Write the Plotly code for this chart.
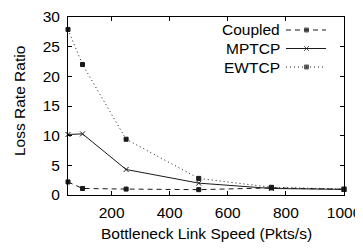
import plotly.graph_objects as go

speeds = [50, 100, 250, 500, 750, 1000]
coupled = [2.2, 1.1, 1.0, 0.9, 1.2, 0.95]
mptcp = [10.2, 10.3, 4.3, 2.0, 1.1, 0.95]
ewtcp = [27.9, 22.0, 9.4, 2.8, 1.3, 1.0]

series_names = ["Coupled", "MPTCP", "EWTCP"]
x_ticks = [200, 400, 600, 800, 1000]
y_ticks = [0, 5, 10, 15, 20, 25, 30]

FONT = "Liberation Sans, Arial, Helvetica, sans-serif"
INK = "#1a1a1a"
FS = 15.5

# page body has an 8px default margin; the figure is sized to fit the 363x251 window
PAGE_OFF = 8
W, H = 363 - PAGE_OFF, 251 - PAGE_OFF
ML, MR, MT, MB = 68 - PAGE_OFF, 19, 17 - PAGE_OFF, 56
PW, PH = W - ML - MR, H - MT - MB

def px_x(px):
    return (px - PAGE_OFF - ML) / PW

def px_y(py):
    return (H - MB - (py - PAGE_OFF)) / PH

styles = {
    "Coupled": dict(dash="5px,4px", symbol="square", size=4),
    "MPTCP": dict(dash="solid", symbol="x-thin", size=5),
    "EWTCP": dict(dash="1px,3px", symbol="square", size=4),
}
values = {"Coupled": coupled, "MPTCP": mptcp, "EWTCP": ewtcp}

fig = go.Figure()
for name in series_names:
    st = styles[name]
    fig.add_trace(go.Scatter(
        x=speeds, y=values[name], mode="lines+markers", name=name,
        line=dict(color=INK, width=1, dash=st["dash"]),
        marker=dict(symbol=st["symbol"], size=st["size"], color=INK,
                    line=dict(color=INK, width=1)),
        showlegend=False, cliponaxis=False,
    ))

# gnuplot-style legend (text left, sample right) on an overlay axis in paper units
leg_rows_px = [30, 48.5, 67]
for name, row in zip(series_names, leg_rows_px):
    st = styles[name]
    ly = px_y(row)
    fig.add_trace(go.Scatter(
        x=[px_x(286), px_x(306.5), px_x(326)], y=[ly, ly, ly], xaxis="x2", yaxis="y2",
        mode="lines+markers", showlegend=False, hoverinfo="skip",
        line=dict(color=INK, width=1, dash=st["dash"]),
        marker=dict(symbol=st["symbol"], size=[0, st["size"], 0], color=INK,
                    line=dict(color=INK, width=1)),
        cliponaxis=False,
    ))
    fig.add_annotation(x=px_x(282), y=ly, xref="paper", yref="paper", text=name,
                       showarrow=False, xanchor="right", yanchor="middle",
                       font=dict(family=FONT, size=FS, color="black"))

axis_common = dict(
    showgrid=False, zeroline=False, showline=True, linecolor="black", linewidth=1,
    mirror="ticks", ticks="inside", ticklen=4, tickcolor="black", tickwidth=1,
    tickfont=dict(family=FONT, size=FS, color="black"), automargin=False,
)

fig.update_layout(
    width=W, height=H,
    margin=dict(l=ML, r=MR, t=MT, b=MB, pad=0),
    paper_bgcolor="white", plot_bgcolor="white",
    xaxis=dict(range=[50, 1000], tickvals=x_ticks, ticklabelstandoff=3, **axis_common),
    yaxis=dict(range=[0, 30], tickvals=y_ticks, ticklabelstandoff=4, **axis_common),
    xaxis2=dict(range=[0, 1], overlaying="x", visible=False, fixedrange=True),
    yaxis2=dict(range=[0, 1], overlaying="y", visible=False, fixedrange=True),
    font=dict(family=FONT, color="black"),
    showlegend=False,
)

fig.add_annotation(x=0.5, y=px_y(233), xref="paper", yref="paper",
                   text="Bottleneck Link Speed (Pkts/s)", showarrow=False,
                   xanchor="center", yanchor="middle",
                   font=dict(family=FONT, size=FS, color="black"))
fig.add_annotation(x=px_x(19), y=px_y(101), xref="paper", yref="paper",
                   text="Loss Rate Ratio", textangle=-90, showarrow=False,
                   xanchor="center", yanchor="middle",
                   font=dict(family=FONT, size=FS, color="black"))

fig.write_html("out.html")
